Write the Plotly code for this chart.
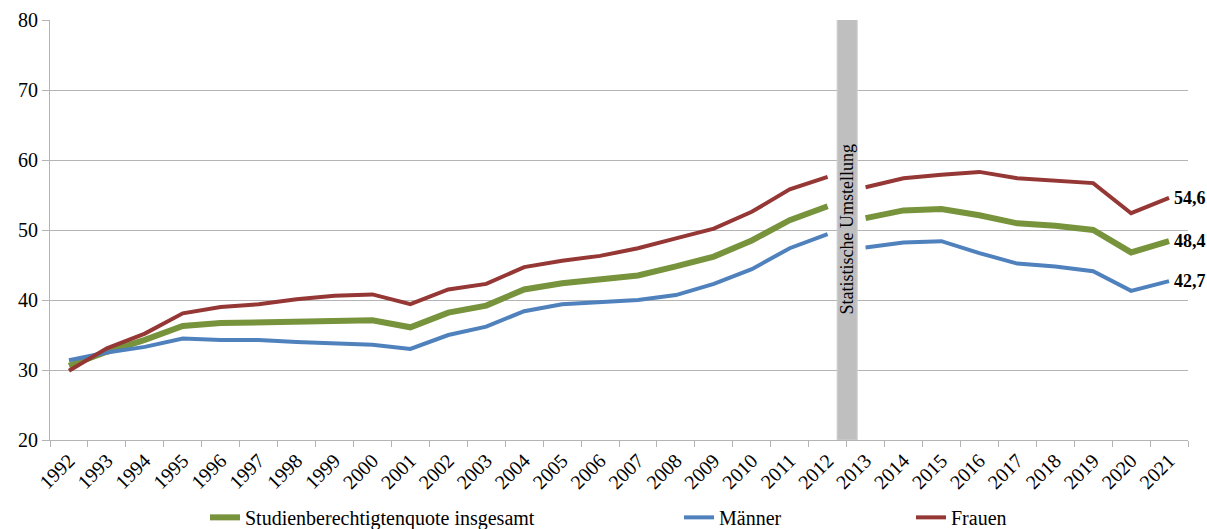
import plotly.graph_objects as go

years = ["1992", "1993", "1994", "1995", "1996", "1997", "1998", "1999", "2000", "2001",
         "2002", "2003", "2004", "2005", "2006", "2007", "2008", "2009", "2010", "2011",
         "2012", "2013", "2014", "2015", "2016", "2017", "2018", "2019", "2020", "2021"]

insgesamt = [30.6, 32.6, 34.3, 36.3, 36.7, 36.8, 37.0, 37.1, 37.1, 36.1,
             38.2, 39.2, 41.5, 42.4, 42.9, 43.5, 44.8, 46.2, 48.5, 51.4,
             53.4, 51.7, 52.8, 53.0, 52.1, 50.95, 50.6, 50.0, 46.8, 48.4]

maenner = [31.4, 32.5, 33.3, 34.5, 34.3, 34.3, 34.0, 33.8, 33.6, 33.0,
           35.0, 36.2, 38.4, 39.4, 39.7, 40.0, 40.7, 42.3, 44.4, 47.4,
           49.4, 47.5, 48.2, 48.4, 46.7, 45.2, 44.8, 44.1, 41.3, 42.7]

frauen = [29.9, 33.1, 35.2, 38.1, 39.0, 39.4, 40.1, 40.6, 40.8, 39.4,
          41.5, 42.3, 44.7, 45.6, 46.3, 47.4, 48.8, 50.2, 52.6, 55.8,
          57.6, 56.1, 57.4, 57.9, 58.3, 57.4, 57.0, 56.7, 52.4, 54.6]

series_names = ["Studienberechtigtenquote insgesamt", "Männer", "Frauen"]
break_label = "Statistische Umstellung"
n_before_break = 21  # 1992-2012 before the statistical change

FONT = "Liberation Serif, Times New Roman, serif"
GRID = "#b4b4b4"

fig = go.Figure()

styles = [
    (insgesamt, "#77933C", 6, "legend"),
    (maenner, "#4F81BD", 4, "legend2"),
    (frauen, "#953735", 4, "legend3"),
]

for name, (vals, color, width, leg) in zip(series_names, styles):
    fig.add_trace(go.Scatter(
        x=years[:n_before_break], y=vals[:n_before_break], mode="lines", name=name,
        line=dict(color=color, width=width), legend=leg, legendgroup=name,
        hoverinfo="x+y+name"))
    fig.add_trace(go.Scatter(
        x=years[n_before_break:], y=vals[n_before_break:], mode="lines", name=name,
        line=dict(color=color, width=width), legend=leg, legendgroup=name,
        showlegend=False, hoverinfo="x+y+name"))

# end-value labels (category axis: use the serial index of the last category)
last_idx = len(years) - 1
for vals in (frauen, insgesamt, maenner):
    fig.add_annotation(
        x=last_idx, y=vals[-1], xref="x", yref="y",
        text="<b>" + f"{vals[-1]:.1f}".replace(".", ",") + "</b>",
        showarrow=False, xanchor="left", yanchor="middle", xshift=3,
        font=dict(family=FONT, size=18, color="black"))

# statistical break band
fig.add_shape(type="rect", xref="x", yref="y",
              x0=n_before_break - 0.75, x1=n_before_break - 0.22, y0=20, y1=80.4,
              fillcolor="#BFBFBF", line=dict(color="#d0d0d0", width=1), layer="above")
fig.add_annotation(x=n_before_break - 0.485, y=50.1, xref="x", yref="y",
                   text=break_label, textangle=-90, showarrow=False,
                   font=dict(family=FONT, size=18, color="black"))

legend_common = dict(orientation="h", xref="container", yref="container",
                     y=0.022, yanchor="middle", xanchor="left",
                     bgcolor="rgba(0,0,0,0)", font=dict(family=FONT, size=20, color="black"),
                     itemwidth=30)

fig.update_layout(
    width=1207, height=529,
    margin=dict(l=50, r=19, t=20, b=89),
    paper_bgcolor="white", plot_bgcolor="white",
    font=dict(family=FONT, color="black"),
    showlegend=True,
    legend=dict(legend_common, x=205 / 1207),
    legend2=dict(legend_common, x=679 / 1207),
    legend3=dict(legend_common, x=911 / 1207),
    xaxis=dict(type="category", categoryorder="array", categoryarray=years,
               tickson="boundaries", ticks="outside", ticklen=6, tickcolor=GRID,
               showline=True, linecolor=GRID, linewidth=1, showgrid=False,
               tickangle=-45, tickfont=dict(family=FONT, size=20, color="black"),
               range=[-0.5, len(years) - 0.5], automargin=False),
    yaxis=dict(range=[20, 80], dtick=10, showgrid=True, gridcolor=GRID, gridwidth=1,
               showline=True, linecolor=GRID, linewidth=1, ticks="outside", ticklen=7,
               tickcolor=GRID, zeroline=False, automargin=False,
               tickfont=dict(family=FONT, size=20, color="black")),
)

fig.write_html("out.html", config={"displayModeBar": False})

# remove the default page margin so the figure fills the window exactly
with open("out.html", "r", encoding="utf-8") as f:
    html = f.read()
html = html.replace("<body>", '<body style="margin:0;padding:0;overflow:hidden">', 1)
with open("out.html", "w", encoding="utf-8") as f:
    f.write(html)
